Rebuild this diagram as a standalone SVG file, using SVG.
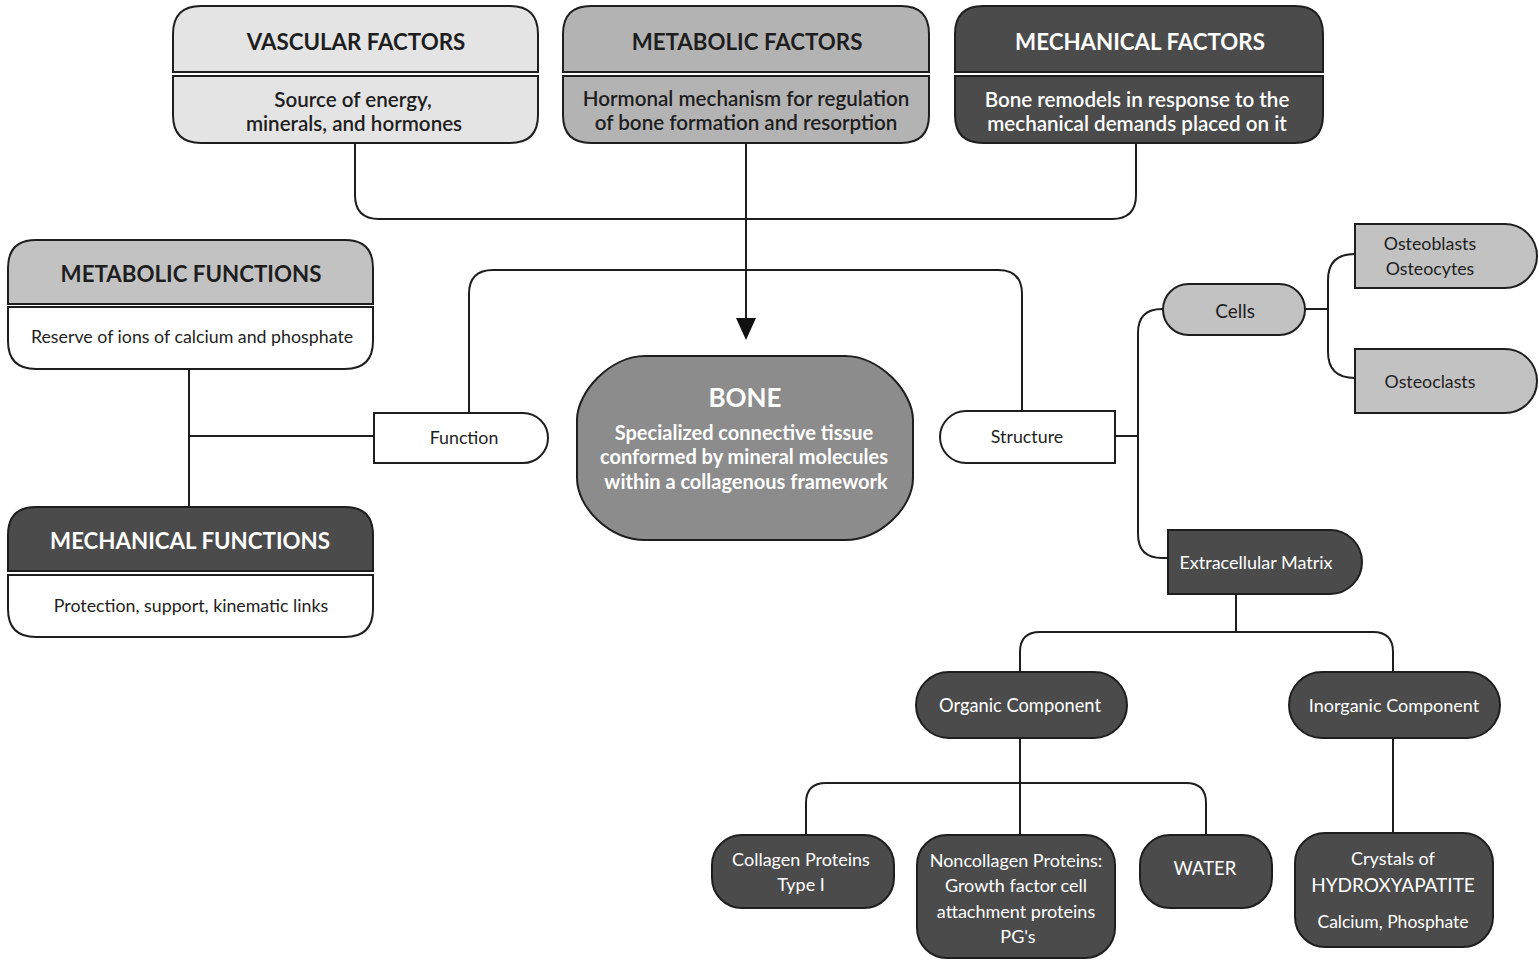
<svg xmlns="http://www.w3.org/2000/svg" width="1539" height="967" viewBox="0 0 1539 967">
<defs>
<style>
.st{stroke:#1e1e1e;stroke-width:2;}
.light{fill:#e4e4e4;}
.mid{fill:#b3b3b3;}
.mid2{fill:#c2c2c2;}
.dark{fill:#4b4b4b;}
.bone{fill:#8c8c8c;}
.white{fill:#ffffff;}
.t{font-family:Lato,"Open Sans","DejaVu Sans",sans-serif;text-anchor:middle;dominant-baseline:central;}
.h{font-weight:bold;font-size:22.3px;}
.b{font-weight:600;font-size:20.6px;}
.s{font-size:17.8px;}
.n{font-size:18px;}
.dk{fill:#1e1e1e;}
.lt{fill:#ffffff;}
.line{fill:none;stroke:#1e1e1e;stroke-width:2;}
</style>
</defs>
<rect width="1539" height="967" fill="#ffffff"/>
<g id="connectors">
<path class="line" d="M355,143 V195 Q355,219 379,219 H1112 Q1136,219 1136,195 V143"/>
<path class="line" d="M746,143 V318"/>
<path d="M736,318 L756,318 L746,340 Z" fill="#111"/>
<path class="line" d="M469,413 V294 Q469,270 493,270 H998 Q1022,270 1022,294 V411"/>
<path class="line" d="M189,369 V507 M189,436 H374"/>
<path class="line" d="M1115,436 H1138 M1163,309 H1162 Q1138,309 1138,333 V534 Q1138,558 1162,558 H1168"/>
<path class="line" d="M1305,309 H1328 M1355,254 Q1328,254 1328,280 V352 Q1328,378 1355,378"/>
<path class="line" d="M1236,594 V632 M1020,672 V652 Q1020,632 1040,632 H1373 Q1393,632 1393,652 V672"/>
<path class="line" d="M1020,738 V835 M806,835 V803 Q806,783 826,783 H1186 Q1206,783 1206,803 V835"/>
<path class="line" d="M1393,738 V833"/>
</g>
<g id="vascular-factors">
<path class="light st" d="M173,72 V34 Q173,6 201,6 H510 Q538,6 538,34 V72 Z"/>
<path class="light st" d="M173,76 V115 Q173,143 201,143 H510 Q538,143 538,115 V76 Z"/>
<text class="t h dk" x="356" y="41">VASCULAR FACTORS</text>
<text class="t b dk" x="353" y="99">Source of energy,</text>
<text class="t b dk" x="354" y="123">minerals, and hormones</text>
</g>
<g id="metabolic-factors">
<path class="mid st" d="M563,72 V34 Q563,6 591,6 H901 Q929,6 929,34 V72 Z"/>
<path class="mid st" d="M563,76 V115 Q563,143 591,143 H901 Q929,143 929,115 V76 Z"/>
<text class="t h dk" x="747" y="41">METABOLIC FACTORS</text>
<text class="t b dk" x="746" y="98">Hormonal mechanism for regulation</text>
<text class="t b dk" x="746" y="122">of bone formation and resorption</text>
</g>
<g id="mechanical-factors">
<path class="dark st" d="M955,72 V34 Q955,6 983,6 H1295 Q1323,6 1323,34 V72 Z"/>
<path class="dark st" d="M955,76 V115 Q955,143 983,143 H1295 Q1323,143 1323,115 V76 Z"/>
<text class="t h lt" x="1140" y="41">MECHANICAL FACTORS</text>
<text class="t b lt" x="1137" y="99">Bone remodels in response to the</text>
<text class="t b lt" x="1137" y="123">mechanical demands placed on it</text>
</g>
<g id="metabolic-functions">
<path class="mid2 st" d="M8,304 V268 Q8,240 36,240 H345 Q373,240 373,268 V304 Z"/>
<path class="white st" d="M8,307 V341 Q8,369 36,369 H345 Q373,369 373,341 V307 Z"/>
<text class="t h dk" x="191" y="273">METABOLIC FUNCTIONS</text>
<text class="t s dk" x="192" y="336">Reserve of ions of calcium and phosphate</text>
</g>
<g id="mechanical-functions">
<path class="dark st" d="M8,571 V535 Q8,507 36,507 H345 Q373,507 373,535 V571 Z"/>
<path class="white st" d="M8,575 V609 Q8,637 36,637 H345 Q373,637 373,609 V575 Z"/>
<text class="t h lt" x="190" y="540">MECHANICAL FUNCTIONS</text>
<text class="t s dk" x="191" y="605">Protection, support, kinematic links</text>
</g>
<g id="function">
<path class="white st" d="M374,413 H523 A25,25 0 0 1 548,438 A25,25 0 0 1 523,463 H374 Z"/>
<text class="t s dk" x="464" y="437">Function</text>
</g>
<g id="bone">
<path class="bone st" d="M645,356 H845 C880,356 913,392 913,420 V478 C913,508 880,540 845,540 H645 C610,540 577,508 577,478 V420 C577,392 610,356 645,356 Z"/>
<text class="t lt" style="font-weight:bold;font-size:26px" x="745" y="397">BONE</text>
<text class="t lt" style="font-weight:bold;font-size:20px" x="744" y="432">Specialized connective tissue</text>
<text class="t lt" style="font-weight:bold;font-size:20px" x="744" y="456">conformed by mineral molecules</text>
<text class="t lt" style="font-weight:bold;font-size:20px" x="746" y="481">within a collagenous framework</text>
</g>
<g id="structure">
<path class="white st" d="M1115,411 H966 A26,26 0 0 0 940,437 A26,26 0 0 0 966,463 H1115 Z"/>
<text class="t s dk" x="1027" y="436">Structure</text>
</g>
<g id="cells">
<rect class="mid2 st" x="1163" y="284" width="142" height="51" rx="25.5"/>
<text class="t dk" style="font-size:19px" x="1235" y="310">Cells</text>
</g>
<g id="osteoblasts">
<path class="mid2 st" d="M1355,224 H1505 A32,32 0 0 1 1537,256 A32,32 0 0 1 1505,288 H1355 Z"/>
<text class="t s dk" x="1430" y="243">Osteoblasts</text>
<text class="t s dk" x="1430" y="268">Osteocytes</text>
</g>
<g id="osteoclasts">
<path class="mid2 st" d="M1355,349 H1505 A32,32 0 0 1 1537,381 A32,32 0 0 1 1505,413 H1355 Z"/>
<text class="t s dk" x="1430" y="381">Osteoclasts</text>
</g>
<g id="extracellular-matrix">
<path class="dark st" d="M1168,530 H1330 A32,32 0 0 1 1362,562 A32,32 0 0 1 1330,594 H1168 Z"/>
<text class="t n lt" x="1256" y="562">Extracellular Matrix</text>
</g>
<g id="organic-component">
<rect class="dark st" x="916" y="672" width="211" height="66" rx="33"/>
<text class="t lt" style="font-size:18.3px" x="1020" y="705">Organic Component</text>
</g>
<g id="inorganic-component">
<rect class="dark st" x="1289" y="672" width="211" height="66" rx="33"/>
<text class="t n lt" x="1394" y="705">Inorganic Component</text>
</g>
<g id="collagen-proteins">
<rect class="dark st" x="712" y="835" width="182" height="73" rx="30"/>
<text class="t n lt" x="801" y="859">Collagen Proteins</text>
<text class="t n lt" x="801" y="884">Type I</text>
</g>
<g id="noncollagen-proteins">
<rect class="dark st" x="917" y="835" width="198" height="123" rx="30"/>
<text class="t n lt" x="1016" y="860">Noncollagen Proteins:</text>
<text class="t n lt" x="1016" y="885">Growth factor cell</text>
<text class="t n lt" x="1016" y="911">attachment proteins</text>
<text class="t n lt" x="1018" y="936">PG's</text>
</g>
<g id="water">
<rect class="dark st" x="1140" y="835" width="132" height="73" rx="30"/>
<text class="t lt" style="font-size:18.5px" x="1205" y="868">WATER</text>
</g>
<g id="crystals">
<rect class="dark st" x="1295" y="833" width="198" height="114" rx="30"/>
<text class="t n lt" x="1393" y="858">Crystals of</text>
<text class="t lt" style="font-size:19px" x="1393" y="884">HYDROXYAPATITE</text>
<text class="t lt" style="font-size:17.5px" x="1393" y="921">Calcium, Phosphate</text>
</g>
</svg>
